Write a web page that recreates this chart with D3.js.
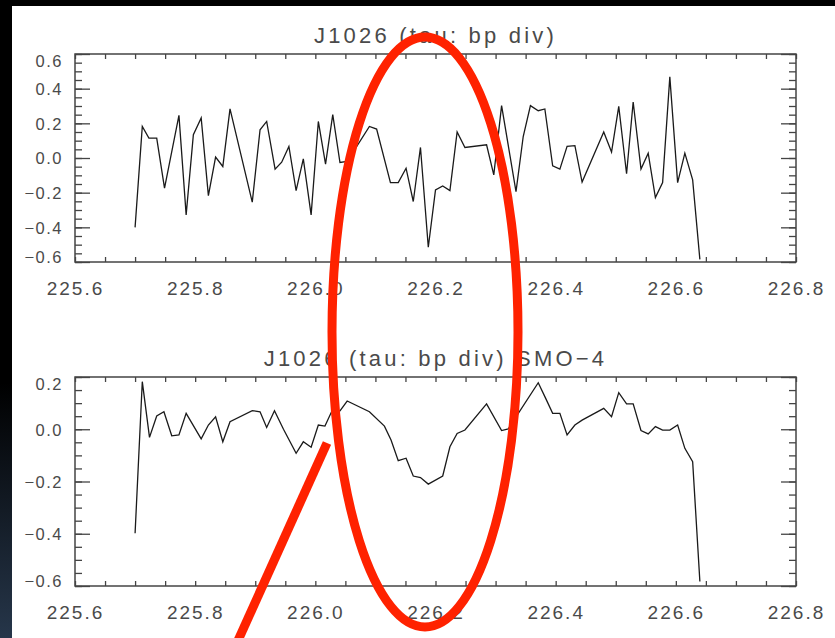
<!DOCTYPE html>
<html>
<head>
<meta charset="utf-8">
<script src="https://cdn.jsdelivr.net/npm/d3@7"></script>
<style>
  body { margin: 0; background: #000; }
  svg { display: block; }
  text { font-family: "Liberation Sans", Arial, sans-serif; fill: #4a4a4a; }
</style>
</head>
<body>
<svg width="835" height="638"></svg>
<script>
// x positions (GHz) and values
const topX = [225.700, 225.712, 225.723, 225.736, 225.749, 225.773, 225.785, 225.797, 225.810, 225.822,
  225.834, 225.846, 225.858, 225.895, 225.908, 225.919, 225.933, 225.944, 225.956, 225.968,
  225.980, 225.993, 226.005, 226.017, 226.029, 226.041, 226.053, 226.090, 226.102, 226.125,
  226.138, 226.151, 226.163, 226.175, 226.188, 226.200, 226.212, 226.224, 226.236, 226.249,
  226.285, 226.297, 226.310, 226.334, 226.346, 226.358, 226.371, 226.382, 226.395, 226.407,
  226.419, 226.432, 226.444, 226.480, 226.493, 226.505, 226.518, 226.529, 226.542, 226.554,
  226.566, 226.578, 226.590, 226.603, 226.615, 226.628, 226.640];
const topY = [-0.40, 0.182, 0.115, 0.115, -0.174, 0.246, -0.328, 0.134, 0.231, -0.217,
  0.005, -0.049, 0.283, -0.255, 0.163, 0.211, -0.064, -0.024, 0.067, -0.188,
  -0.005, -0.328, 0.211, -0.035, 0.250, -0.026, -0.020, 0.182, 0.167, -0.142,
  -0.142, -0.059, -0.251, 0.061, -0.515, -0.184, -0.161, -0.188, 0.150, 0.061,
  0.076, -0.097, 0.302, -0.194, 0.124, 0.302, 0.273, 0.283, -0.045, -0.064,
  0.067, 0.071, -0.139, 0.150, 0.034, 0.298, -0.091, 0.323, -0.064, 0.028,
  -0.228, -0.142, 0.468, -0.142, 0.028, -0.126, -0.585];

const smoX = [225.700, 225.712, 225.724, 225.736, 225.748, 225.761, 225.773, 225.785, 225.810, 225.822,
  225.834, 225.846, 225.858, 225.895, 225.908, 225.919, 225.932, 225.947, 225.968, 225.980,
  225.993, 226.005, 226.016, 226.027, 226.041, 226.053, 226.090, 226.115, 226.126, 226.138,
  226.151, 226.163, 226.175, 226.188, 226.212, 226.224, 226.236, 226.249, 226.285, 226.310,
  226.321, 226.371, 226.383, 226.395, 226.407, 226.419, 226.432, 226.444, 226.480, 226.493,
  226.505, 226.518, 226.529, 226.542, 226.554, 226.566, 226.578, 226.590, 226.603, 226.615,
  226.628, 226.640];
const smoY = [-0.398, 0.182, -0.031, 0.051, 0.067, -0.025, -0.022, 0.061, -0.037, 0.016,
  0.048, -0.048, 0.029, 0.071, 0.067, 0.007, 0.071, 0.000, -0.092, -0.048,
  -0.069, 0.016, 0.012, 0.067, 0.070, 0.108, 0.067, 0.012, -0.041, -0.120,
  -0.111, -0.179, -0.185, -0.210, -0.179, -0.067, -0.016, -0.003, 0.097, -0.005,
  0.001, 0.178, 0.120, 0.061, 0.061, -0.022, 0.016, 0.035, 0.080, 0.048,
  0.140, 0.097, 0.097, -0.005, -0.018, 0.010, -0.003, -0.003, 0.016, -0.073,
  -0.124, -0.583];

const xTicks = [225.6, 225.8, 226.0, 226.2, 226.4, 226.6, 226.8];
const topYTicks = [-0.6, -0.4, -0.2, 0.0, 0.2, 0.4, 0.6];
const smoYTicks = [-0.6, -0.4, -0.2, 0.0, 0.2];
const titles = ["J1026 (tau: bp div)", "J1026 (tau: bp div) SMO\u22124"];

const svg = d3.select("svg");

// backdrop: black with a faint blue fade at lower left, white page
const grad = svg.append("defs").append("linearGradient")
    .attr("id", "bg").attr("x1", 0).attr("y1", 0).attr("x2", 0).attr("y2", 1);
grad.append("stop").attr("offset", "0.6").attr("stop-color", "#000");
grad.append("stop").attr("offset", "1").attr("stop-color", "#26364a");
svg.append("rect").attr("width", 835).attr("height", 638).attr("fill", "url(#bg)");
svg.append("rect").attr("x", 12).attr("y", 6).attr("width", 823).attr("height", 632).attr("fill", "#fff");

const fmt = d3.format(".1f");

function panel(xs, ys, yTicks, box, title) {
    const x = d3.scaleLinear().domain([225.6, 226.8]).range([box.left, box.right]);
    const y = d3.scaleLinear().domain([yTicks[0], yTicks[yTicks.length - 1]]).range([box.bottom, box.top]);
    const g = svg.append("g");

    const minorY = d3.range(yTicks[0], yTicks[yTicks.length - 1] + 0.001, 0.05);
    const minorX = d3.range(225.6, 226.801, 0.05);

    // ticks, drawn inward on all four sides
    g.append("g").attr("transform", `translate(${box.left},0)`)
        .call(d3.axisLeft(y).tickValues(minorY).tickSize(-7).tickSizeOuter(0).tickFormat(""));
    g.append("g").attr("transform", `translate(${box.right},0)`)
        .call(d3.axisRight(y).tickValues(minorY).tickSize(-7).tickSizeOuter(0).tickFormat(""));
    g.append("g").attr("transform", `translate(${box.right},0)`)
        .call(d3.axisRight(y).tickValues(yTicks).tickSize(-15).tickSizeOuter(0).tickFormat(""));
    const yl = g.append("g").attr("class", "ylab").attr("transform", `translate(${box.left},0)`)
        .call(d3.axisLeft(y).tickValues(yTicks).tickSize(-15).tickSizeOuter(0).tickPadding(12).tickFormat(fmt));
    g.append("g").attr("transform", `translate(0,${box.top})`)
        .call(d3.axisTop(x).tickValues(minorX).tickSize(-5).tickSizeOuter(0).tickFormat(""));
    g.append("g").attr("transform", `translate(0,${box.bottom})`)
        .call(d3.axisBottom(x).tickValues(minorX).tickSize(-5).tickSizeOuter(0).tickFormat(""));
    g.append("g").attr("transform", `translate(0,${box.bottom})`)
        .call(d3.axisBottom(x).tickValues(xTicks).tickSize(0).tickSizeOuter(0).tickPadding(20)
            .tickFormat(fmt))
        .call(a => a.selectAll("text").attr("font-size", 19).attr("letter-spacing", 2)
            .attr("dy", "0.71em").attr("fill", "#4a4a4a"));

    g.selectAll(".domain").remove();
    g.selectAll(".tick line").attr("stroke", "#444").attr("stroke-width", 1.3);

    yl.selectAll("text").attr("font-size", 16.5).attr("letter-spacing", 1.5).attr("fill", "#4a4a4a")
        .attr("dy", d => d === yTicks[yTicks.length - 1] ? "0.76em" : (d === yTicks[0] ? "0em" : "0.35em"));

    g.append("rect").attr("x", box.left).attr("y", box.top)
        .attr("width", box.right - box.left).attr("height", box.bottom - box.top)
        .attr("fill", "none").attr("stroke", "#444").attr("stroke-width", 1.5);

    g.append("path")
        .datum(d3.zip(xs, ys))
        .attr("fill", "none").attr("stroke", "#1a1a1a").attr("stroke-width", 1.3)
        .attr("d", d3.line().x(d => x(d[0])).y(d => y(d[1])));

    g.append("text").attr("x", (box.left + box.right) / 2).attr("y", box.top - 11)
        .attr("text-anchor", "middle").attr("font-size", 22).attr("letter-spacing", 3.2)
        .attr("fill", "#555")
        .text(title);
}

panel(topX, topY, topYTicks, { left: 75, right: 796, top: 54, bottom: 262 }, titles[0]);
panel(smoX, smoY, smoYTicks, { left: 75, right: 796, top: 377, bottom: 586 }, titles[1]);

// red hand-drawn annotation on top of the chart
svg.append("ellipse").attr("cx", 425).attr("cy", 332).attr("rx", 93).attr("ry", 295)
    .attr("fill", "none").attr("stroke", "#ff2200").attr("stroke-width", 9);
svg.append("line").attr("x1", 236).attr("y1", 645).attr("x2", 327).attr("y2", 443)
    .attr("stroke", "#ff2200").attr("stroke-width", 9);
</script>
</body>
</html>
